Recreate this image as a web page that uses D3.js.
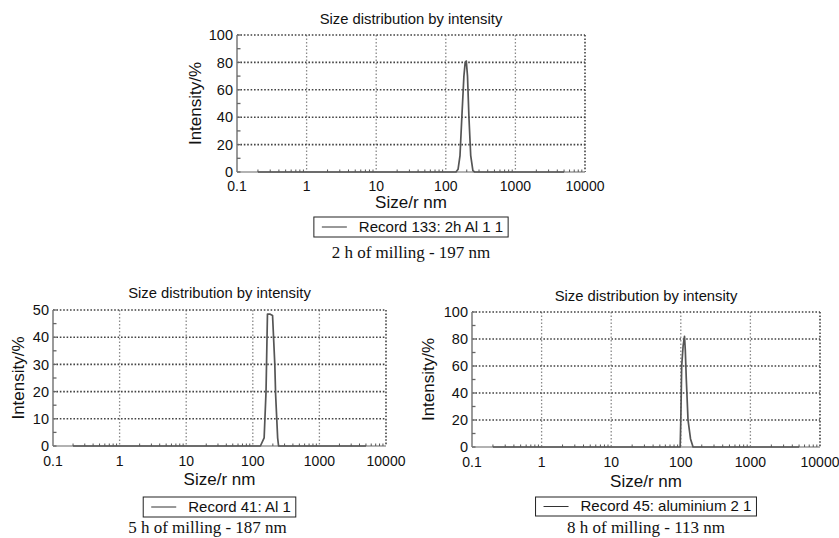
<!DOCTYPE html>
<html>
<head>
<meta charset="utf-8">
<script src="https://cdn.jsdelivr.net/npm/d3@7"></script>
<style>
  body { margin: 0; background: #fff; }
  svg { display: block; }
</style>
</head>
<body>
<div id="container"></div>
<script>
// ---- data ----
const xTicks = [0.1, 1, 10, 100, 1000, 10000];
const xTickLabels = ["0.1", "1", "10", "100", "1000", "10000"];
const xDomain = [0.1, 10000];

// 2 h of milling
const size2h = [0.2, 1, 10, 100, 140, 150, 160, 170, 182, 190, 197, 205, 215, 228, 245, 260, 1000, 5000];
const int2h  = [0, 0, 0, 0, 0, 2, 12, 40, 70, 80, 81, 70, 40, 12, 1, 0, 0, 0];

// 5 h of milling
const size5h = [0.2, 1, 10, 100, 130, 148, 158, 166, 180, 198, 214, 220, 236, 244, 1000, 5000];
const int5h  = [0, 0, 0, 0, 0, 3, 20, 48.5, 48.5, 48, 30, 19, 3, 0, 0, 0];

// 8 h of milling
const size8h = [0.2, 1, 10, 98, 100, 103, 108, 113, 116, 120, 127, 138, 150, 1000, 5000];
const int8h  = [0, 0, 0, 0, 20, 60, 75, 82, 72, 50, 20, 6, 0, 0, 0];

const chartTitle = "Size distribution by intensity";
const yTitle = "Intensity/%";
const xTitle = "Size/r nm";
const legendLabels = ["Record 133: 2h Al 1 1", "Record 41: Al 1", "Record 45: aluminium 2 1"];
const captions = ["2 h of milling - 197 nm", "5 h of milling - 187 nm", "8 h of milling - 113 nm"];
const yMax = [100, 50, 100];
const yStep = [20, 10, 20];

// ---- layout ----
const width = 839, height = 538;
const svg = d3.select("#container").append("svg")
  .attr("width", width).attr("height", height);

const sans = "'Liberation Sans', Arial, sans-serif";
const serif = "'Liberation Serif', 'Times New Roman', serif";

const charts = [
  { x: size2h, y: int2h, left: 237, right: 585, top: 35, bottom: 172, yLabelDx: 42,
    titleDy: 11, tickDy: 19, axisDy: 36, legendDy: 45, legendH: 20, captionDy: 86, captionDx: 0 },
  { x: size5h, y: int5h, left: 53, right: 386, top: 310, bottom: 446, yLabelDx: 35,
    titleDy: 12, tickDy: 20, axisDy: 39, legendDy: 51, legendH: 20, captionDy: 87, captionDx: -12 },
  { x: size8h, y: int8h, left: 472, right: 820, top: 312, bottom: 447, yLabelDx: 44,
    titleDy: 11, tickDy: 20, axisDy: 40, legendDy: 50, legendH: 19, captionDy: 86, captionDx: 0 }
];

charts.forEach((c, i) => drawChart(c, i));

function drawChart(c, i) {
  const g = svg.append("g");
  const x = d3.scaleLog().domain(xDomain).range([c.left, c.right]);
  const y = d3.scaleLinear().domain([0, yMax[i]]).range([c.bottom, c.top]);
  const cx = (c.left + c.right) / 2;

  const yMajor = d3.range(0, yMax[i] + 0.001, yStep[i]);
  const yMinor = d3.range(0, yMax[i] + 0.001, yStep[i] / 2);

  // vertical grid at decades
  g.selectAll(".vgrid").data(xTicks.slice(1, -1)).join("line")
    .attr("x1", d => x(d)).attr("x2", d => x(d))
    .attr("y1", c.top).attr("y2", c.bottom)
    .attr("stroke", "#8a8a8a").attr("stroke-width", 1.3)
    .attr("stroke-dasharray", "1.5,2");

  // horizontal grid
  g.selectAll(".hgrid").data(yMajor.slice(1)).join("line")
    .attr("x1", c.left).attr("x2", c.right)
    .attr("y1", d => y(d)).attr("y2", d => y(d))
    .attr("stroke", "#444").attr("stroke-width", 1.6)
    .attr("stroke-dasharray", "1.6,1.8");

  // right border
  g.append("line")
    .attr("x1", c.right).attr("x2", c.right)
    .attr("y1", c.top).attr("y2", c.bottom)
    .attr("stroke", "#444").attr("stroke-width", 1.6)
    .attr("stroke-dasharray", "1.6,1.8");

  // x axis line
  g.append("line")
    .attr("x1", c.left).attr("x2", c.right)
    .attr("y1", c.bottom).attr("y2", c.bottom)
    .attr("stroke", "#999").attr("stroke-width", 1.5);

  // x minor ticks
  const minor = [];
  for (let e = -1; e < 4; e++) for (let k = 2; k <= 9; k++) minor.push(k * Math.pow(10, e));
  g.selectAll(".xminor").data(minor).join("line")
    .attr("x1", d => x(d)).attr("x2", d => x(d))
    .attr("y1", c.bottom).attr("y2", c.bottom - 2.5)
    .attr("stroke", "#555").attr("stroke-width", 1);

  // y axis line
  g.append("line")
    .attr("x1", c.left).attr("x2", c.left)
    .attr("y1", c.bottom).attr("y2", c.top)
    .attr("stroke", "#9a9a9a").attr("stroke-width", 2);

  g.selectAll(".yminor").data(yMinor).join("line")
    .attr("x1", c.left).attr("x2", c.left + 3.5)
    .attr("y1", d => y(d)).attr("y2", d => y(d))
    .attr("stroke", "#666").attr("stroke-width", 1.3);

  // y tick labels
  g.selectAll(".ylab").data(yMajor).join("text")
    .attr("x", c.left - 4).attr("y", d => y(d))
    .attr("dy", "0.36em").attr("text-anchor", "end")
    .attr("font-family", sans).attr("font-size", 14.5).attr("fill", "#111")
    .text(d => d);

  // x tick labels
  g.selectAll(".xlab").data(xTicks).join("text")
    .attr("x", d => x(d)).attr("y", c.bottom + c.tickDy)
    .attr("text-anchor", "middle")
    .attr("font-family", sans).attr("font-size", 14).attr("fill", "#111")
    .text((d, j) => xTickLabels[j]);

  // data line
  const line = d3.line().x((d, j) => x(c.x[j])).y(d => y(d));
  g.append("path").datum(c.y)
    .attr("d", line).attr("fill", "none")
    .attr("stroke", "#555").attr("stroke-width", 1.7)
    .attr("stroke-linejoin", "round");

  // titles
  g.append("text").attr("x", cx).attr("y", c.top - c.titleDy)
    .attr("text-anchor", "middle").attr("font-family", sans)
    .attr("font-size", 14.8).attr("fill", "#111").text(chartTitle);

  g.append("text").attr("x", cx).attr("y", c.bottom + c.axisDy)
    .attr("text-anchor", "middle").attr("font-family", sans)
    .attr("font-size", 17).attr("fill", "#111").text(xTitle);

  g.append("text")
    .attr("transform", `translate(${c.left - c.yLabelDx},${(c.top + c.bottom) / 2}) rotate(-90)`)
    .attr("text-anchor", "middle").attr("dy", "0.35em").attr("font-family", sans)
    .attr("font-size", 17).attr("fill", "#111").text(yTitle);

  // legend box
  const ly = c.bottom + c.legendDy;
  const lg = g.append("g");
  const lt = lg.append("text").attr("y", ly + c.legendH - 5)
    .attr("font-family", sans).attr("font-size", 15).attr("fill", "#111")
    .text(legendLabels[i]);
  const tw = lt.node().getComputedTextLength();
  const bw = 8 + 25 + 12 + tw + 5;
  const bx = cx - bw / 2;
  lt.attr("x", bx + 45);
  lg.insert("rect", "text").attr("x", bx).attr("y", ly)
    .attr("width", bw).attr("height", c.legendH)
    .attr("fill", "#fff").attr("stroke", "#222").attr("stroke-width", 1);
  lg.append("line").attr("x1", bx + 8).attr("x2", bx + 33)
    .attr("y1", ly + c.legendH / 2).attr("y2", ly + c.legendH / 2)
    .attr("stroke", "#333").attr("stroke-width", 1);

  // caption
  g.append("text").attr("x", cx + c.captionDx).attr("y", c.bottom + c.captionDy)
    .attr("text-anchor", "middle").attr("font-family", serif)
    .attr("font-size", 17).attr("fill", "#111").text(captions[i]);
}
</script>
</body>
</html>
